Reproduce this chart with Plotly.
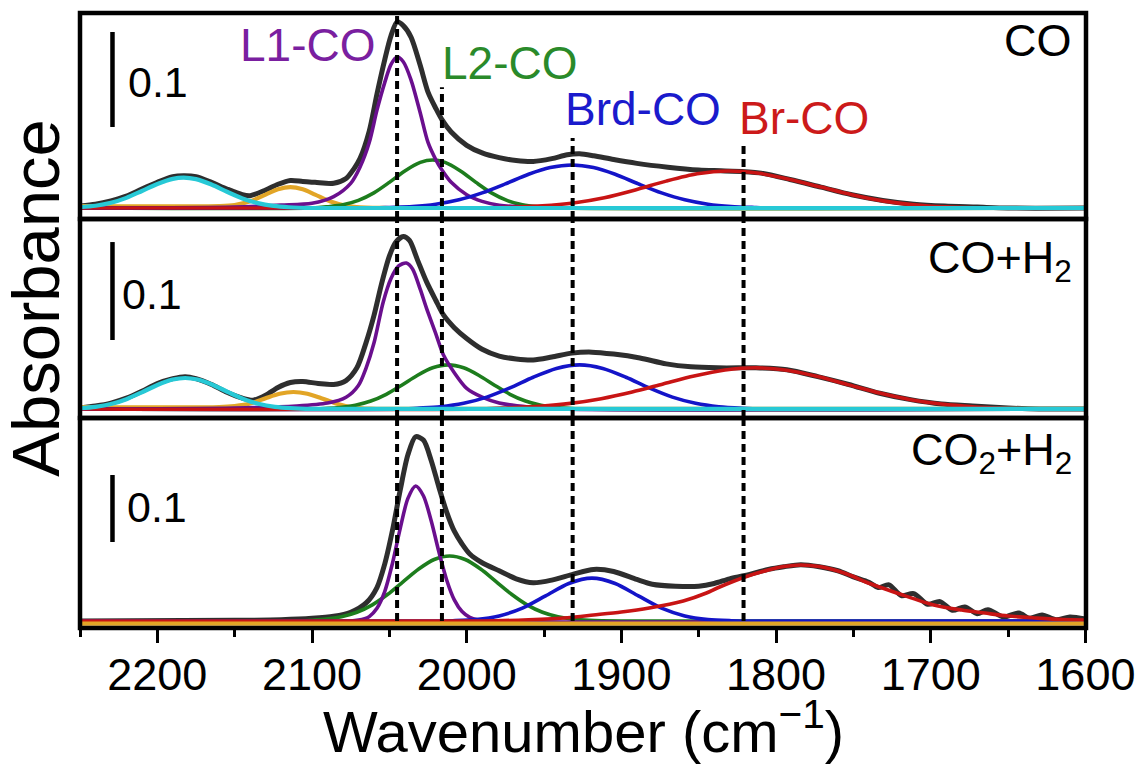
import plotly.graph_objects as go
from plotly.subplots import make_subplots

# ---------------- data: absorbance vs wavenumber (cm-1) ----------------
# Panel 1: CO
WN_CO_TOTAL = [2250, 2240, 2230, 2220, 2210, 2200, 2190, 2183, 2175, 2165, 2155, 2145, 2140, 2130, 2122,
               2114, 2106, 2098, 2086, 2078, 2073, 2069, 2063, 2058, 2053, 2049, 2045, 2041, 2036, 2030,
               2025, 2020, 2016, 2010, 2000, 1990, 1979, 1968, 1957, 1945, 1935, 1927, 1918, 1905, 1890,
               1870, 1850, 1833, 1811, 1791, 1771, 1751, 1731, 1711, 1691, 1670, 1650, 1600]
ABS_CO_TOTAL = [0.002, 0.004, 0.0075, 0.0125, 0.020, 0.027, 0.033, 0.034, 0.033, 0.027, 0.020, 0.014, 0.013, 0.019, 0.025,
                0.029, 0.028, 0.027, 0.026, 0.031, 0.041, 0.052, 0.081, 0.120, 0.156, 0.181, 0.196, 0.192, 0.180, 0.150,
                0.122, 0.105, 0.093, 0.080, 0.066, 0.058, 0.053, 0.050, 0.049, 0.052, 0.056, 0.057, 0.055, 0.051, 0.047,
                0.043, 0.040, 0.039, 0.037, 0.030, 0.022, 0.014, 0.008, 0.004, 0.002, 0.001, 0.0, 0.0]
WN_CO_L1 = [2250, 2150, 2120, 2100, 2086, 2075, 2069, 2063, 2058, 2053, 2049, 2045, 2041, 2036, 2030,
            2025, 2020, 2016, 2010, 2000, 1990, 1979, 1960, 1600]
ABS_CO_L1 = [0.0, 0.001, 0.003, 0.005, 0.012, 0.026, 0.043, 0.069, 0.103, 0.132, 0.151, 0.159, 0.154, 0.135, 0.100,
             0.069, 0.051, 0.040, 0.027, 0.014, 0.007, 0.003, 0.001, 0.0]
WN_CO_L2 = [2250, 2100, 2090, 2080, 2070, 2060, 2050, 2040, 2030, 2022, 2014, 2004, 1994, 1984, 1974, 1964, 1954, 1940, 1600]
ABS_CO_L2 = [0.0, 0.0, 0.0013, 0.0034, 0.008, 0.0159, 0.027, 0.039, 0.048, 0.0505, 0.048, 0.039, 0.027, 0.0159, 0.008,
             0.0034, 0.0013, 0.0, 0.0]
WN_CO_BRD = [2250, 2060, 2050, 2035, 2020, 2005, 1990, 1975, 1960, 1946, 1932, 1918, 1904, 1889, 1874, 1859, 1844,
             1829, 1814, 1800, 1600]
ABS_CO_BRD = [0.0, 0.0, 0.0006, 0.0016, 0.004, 0.0086, 0.0159, 0.0254, 0.0355, 0.0426, 0.0453, 0.0426, 0.0355, 0.0254,
              0.0159, 0.0086, 0.004, 0.0016, 0.0006, 0.0, 0.0]
WN_CO_BR = [2250, 1990, 1971, 1951, 1931, 1911, 1891, 1871, 1851, 1831, 1811, 1791, 1771, 1751, 1731, 1711, 1691,
            1670, 1650, 1600]
ABS_CO_BR = [0.0, 0.0, 0.0008, 0.0022, 0.0053, 0.0108, 0.019, 0.0283, 0.036, 0.039, 0.0365, 0.030, 0.022, 0.014,
             0.0075, 0.0035, 0.0013, 0.0003, 0.0, 0.0]
WN_CO_CYAN = [2250, 2240, 2230, 2220, 2210, 2200, 2190, 2183, 2175, 2165, 2155, 2145, 2135, 2125, 2115, 2100, 1600]
ABS_CO_CYAN = [0.001, 0.0024, 0.0055, 0.0107, 0.0179, 0.0253, 0.0307, 0.032, 0.0304, 0.0247, 0.0171, 0.0101, 0.0051,
               0.0022, 0.0008, 0.0, 0.0]
WN_CO_ORANGE = [2250, 2160, 2150, 2140, 2130, 2122, 2114, 2106, 2098, 2088, 2078, 2065, 2050, 1600]
ABS_CO_ORANGE = [0.002, 0.002, 0.003, 0.007, 0.0141, 0.0197, 0.022, 0.0197, 0.0141, 0.0068, 0.0023, 0.0004, 0.0, 0.0]

# Panel 2: CO + H2
WN_COH2_TOTAL = [2250, 2240, 2230, 2220, 2210, 2200, 2190, 2182, 2175, 2165, 2155, 2145, 2138, 2130, 2122,
                 2114, 2106, 2096, 2086, 2078, 2071, 2065, 2060, 2055, 2050, 2046, 2041, 2037, 2032, 2026,
                 2020, 2015, 2008, 2000, 1990, 1979, 1968, 1957, 1945, 1932, 1919, 1905, 1888, 1871, 1855,
                 1838, 1820, 1813, 1793, 1773, 1753, 1733, 1713, 1693, 1673, 1650, 1630, 1600]
ABS_COH2_TOTAL = [0.001, 0.003, 0.006, 0.011, 0.018, 0.026, 0.031, 0.033, 0.031, 0.025, 0.017, 0.011, 0.009, 0.014, 0.022,
                  0.027, 0.028, 0.026, 0.025, 0.029, 0.042, 0.068, 0.095, 0.128, 0.156, 0.170, 0.176, 0.172, 0.153, 0.130,
                  0.111, 0.096, 0.083, 0.072, 0.061, 0.054, 0.051, 0.050, 0.053, 0.057, 0.058, 0.056, 0.052, 0.046, 0.043,
                  0.042, 0.042, 0.042, 0.040, 0.033, 0.025, 0.016, 0.0095, 0.005, 0.003, 0.001, 0.0, 0.0]
WN_COH2_L1 = [2250, 2150, 2110, 2090, 2078, 2070, 2065, 2060, 2054, 2049, 2044, 2039, 2035, 2030, 2026,
              2020, 2015, 2008, 2000, 1990, 1979, 1960, 1940, 1600]
ABS_COH2_L1 = [0.0, 0.001, 0.003, 0.006, 0.012, 0.024, 0.042, 0.067, 0.109, 0.133, 0.146, 0.149, 0.143, 0.122, 0.103,
               0.077, 0.055, 0.037, 0.021, 0.012, 0.006, 0.002, 0.0, 0.0]
WN_COH2_L2 = [2250, 2100, 2082, 2072, 2062, 2052, 2042, 2032, 2022, 2012, 2002, 1992, 1982, 1972, 1962, 1952, 1942, 1925, 1600]
ABS_COH2_L2 = [0.0, 0.0, 0.0015, 0.0038, 0.0081, 0.015, 0.0243, 0.0342, 0.042, 0.045, 0.042, 0.0342, 0.0243, 0.015,
               0.0081, 0.0038, 0.0015, 0.0, 0.0]
WN_COH2_BRD = [2250, 2040, 2032, 2017, 2002, 1987, 1972, 1957, 1942, 1927, 1912, 1897, 1882, 1867, 1852, 1837, 1822, 1805, 1600]
ABS_COH2_BRD = [0.0, 0.0, 0.0008, 0.0023, 0.0058, 0.0121, 0.0215, 0.0324, 0.0414, 0.045, 0.0414, 0.0324, 0.0215, 0.0121,
                0.0058, 0.0023, 0.0008, 0.0, 0.0]
WN_COH2_BR = [2250, 1990, 1973, 1953, 1933, 1913, 1893, 1873, 1853, 1833, 1813, 1793, 1773, 1753, 1733, 1713, 1693,
              1673, 1653, 1630, 1600]
ABS_COH2_BR = [0.0, 0.0, 0.0012, 0.0028, 0.0057, 0.0105, 0.0173, 0.0255, 0.0336, 0.0397, 0.042, 0.0396, 0.0331, 0.0246,
               0.0162, 0.0095, 0.005, 0.0023, 0.0008, 0.0, 0.0]
WN_COH2_CYAN = [2250, 2240, 2230, 2220, 2210, 2200, 2190, 2182, 2174, 2164, 2154, 2144, 2134, 2124, 2114, 2100, 1600]
ABS_COH2_CYAN = [0.0008, 0.0022, 0.005, 0.010, 0.017, 0.0245, 0.030, 0.0316, 0.030, 0.0245, 0.017, 0.010, 0.005,
                 0.0022, 0.0008, 0.0, 0.0]
WN_COH2_ORANGE = [2250, 2160, 2150, 2140, 2130, 2121, 2112, 2103, 2094, 2084, 2074, 2062, 2050, 1600]
ABS_COH2_ORANGE = [0.002, 0.002, 0.003, 0.0055, 0.011, 0.0155, 0.0173, 0.0155, 0.011, 0.0054, 0.0018, 0.0003, 0.0, 0.0]

# Panel 3: CO2 + H2
WN_CO2H2_TOTAL = [2250, 2150, 2120, 2100, 2086, 2075, 2065, 2058, 2053, 2048, 2043, 2038, 2033, 2028, 2023,
                  2018, 2013, 2008, 2003, 1998, 1990, 1979, 1968, 1957, 1945, 1931, 1918, 1905, 1890, 1880,
                  1865, 1850, 1840, 1830, 1820, 1805, 1795, 1784, 1772, 1760, 1750, 1740, 1734, 1727, 1719,
                  1711, 1702, 1694, 1686, 1678, 1670, 1663, 1653, 1643, 1636, 1628, 1619, 1610, 1600]
ABS_CO2H2_TOTAL = [0.0, 0.001, 0.002, 0.004, 0.007, 0.013, 0.027, 0.050, 0.085, 0.135, 0.195, 0.248, 0.275, 0.270, 0.240,
                   0.200, 0.163, 0.134, 0.115, 0.100, 0.087, 0.075, 0.063, 0.057, 0.061, 0.070, 0.077, 0.074, 0.062, 0.055,
                   0.052, 0.052, 0.056, 0.063, 0.068, 0.077, 0.081, 0.084, 0.081, 0.075, 0.066, 0.058, 0.050, 0.054, 0.038,
                   0.041, 0.025, 0.029, 0.016, 0.021, 0.011, 0.017, 0.006, 0.012, 0.004, 0.009, 0.002, 0.006, 0.003]
WN_CO2H2_L1 = [2250, 2075, 2066, 2063, 2058, 2053, 2048, 2043, 2038, 2033, 2028, 2023, 2018, 2013, 2008,
               2003, 1998, 1993, 1985, 1600]
ABS_CO2H2_L1 = [0.0, 0.0, 0.0033, 0.0066, 0.019, 0.044, 0.086, 0.138, 0.183, 0.2015, 0.187, 0.150, 0.1035, 0.0617, 0.0316,
                0.0141, 0.0054, 0.0018, 0.0, 0.0]
WN_CO2H2_L2 = [2250, 2110, 2101, 2091, 2081, 2071, 2061, 2051, 2041, 2031, 2021, 2011, 2001, 1991, 1981, 1971, 1961,
               1951, 1941, 1931, 1921, 1900, 1600]
ABS_CO2H2_L2 = [0.0, 0.0, 0.0011, 0.0028, 0.0064, 0.0131, 0.0242, 0.0399, 0.0589, 0.0776, 0.0918, 0.097, 0.0918, 0.0776,
                0.0589, 0.0399, 0.0242, 0.0131, 0.0064, 0.0028, 0.0011, 0.0, 0.0]
WN_CO2H2_BRD = [2250, 2020, 2009, 1994, 1979, 1964, 1949, 1934, 1919, 1904, 1889, 1874, 1859, 1844, 1829, 1815, 1600]
ABS_CO2H2_BRD = [0.0, 0.0, 0.0005, 0.0022, 0.0076, 0.0192, 0.0375, 0.056, 0.064, 0.056, 0.0375, 0.0192, 0.0076, 0.0022,
                 0.0005, 0.0, 0.0]
WN_CO2H2_BR = [2250, 1990, 1960, 1935, 1918, 1900, 1882, 1860, 1845, 1838, 1820, 1805, 1795, 1784, 1772, 1760, 1750,
               1742, 1720, 1698, 1680, 1665, 1650, 1632, 1615, 1600]
ABS_CO2H2_BR = [0.0, 0.0, 0.002, 0.005, 0.009, 0.0134, 0.0194, 0.0299, 0.0418, 0.0493, 0.0657, 0.0761, 0.0813, 0.0836,
                0.0813, 0.0746, 0.0664, 0.0582, 0.0403, 0.0239, 0.0164, 0.0119, 0.0075, 0.0045, 0.0022, 0.0015]
WN_CO2H2_ORANGE = [2250, 1600]
ABS_CO2H2_ORANGE = [-0.004, -0.004]

# band assignments (dashed guides) and their labels
BAND_POSITIONS = [2045, 2016, 1931.5, 1821]
BAND_LABELS = ["L1-CO", "L2-CO", "Brd-CO", "Br-CO"]
PANEL_NAMES = ["CO", "CO+H<sub>2</sub>", "CO<sub>2</sub>+H<sub>2</sub>"]
SCALE_BAR = 0.1
X_TICKS = [2200, 2100, 2000, 1900, 1800, 1700, 1600]

# ---------------- styling ----------------
FONT = "Liberation Sans, Arial, Helvetica, sans-serif"
C_BLACK = "#2e2e2e"
C_L1 = "#6a0f8e"
C_L2 = "#1d7d1d"
C_BRD = "#1414c8"
C_BR = "#c81414"
C_CYAN = "#27c9d6"
C_ORANGE = "#e2a526"
LABEL_COLORS = ["#7a1fa0", "#2a8a2a", "#1a1acc", "#cc1a1a"]

Y_RANGES = [[-0.0116, 0.2053], [-0.0092, 0.1939], [-0.0104, 0.303]]
DOMAINS = [[0.665, 1.0], [0.3415, 0.665], [0.0, 0.3415]]
X_RANGE = [2250, 1599.6]

fig = make_subplots(rows=3, cols=1, shared_xaxes=True, vertical_spacing=0)


def add_curve(row, x, y, color, width):
    fig.add_trace(go.Scatter(x=x, y=y, mode="lines",
                             line=dict(color=color, width=width, shape="spline", smoothing=0.8),
                             hoverinfo="skip", showlegend=False), row=row, col=1)


panels = [
    (WN_CO_TOTAL, ABS_CO_TOTAL, [(WN_CO_ORANGE, ABS_CO_ORANGE, C_ORANGE), (WN_CO_L2, ABS_CO_L2, C_L2),
                                  (WN_CO_L1, ABS_CO_L1, C_L1), (WN_CO_BRD, ABS_CO_BRD, C_BRD),
                                  (WN_CO_BR, ABS_CO_BR, C_BR), (WN_CO_CYAN, ABS_CO_CYAN, C_CYAN)]),
    (WN_COH2_TOTAL, ABS_COH2_TOTAL, [(WN_COH2_ORANGE, ABS_COH2_ORANGE, C_ORANGE), (WN_COH2_L2, ABS_COH2_L2, C_L2),
                                      (WN_COH2_L1, ABS_COH2_L1, C_L1), (WN_COH2_BRD, ABS_COH2_BRD, C_BRD),
                                      (WN_COH2_BR, ABS_COH2_BR, C_BR), (WN_COH2_CYAN, ABS_COH2_CYAN, C_CYAN)]),
    (WN_CO2H2_TOTAL, ABS_CO2H2_TOTAL, [(WN_CO2H2_L2, ABS_CO2H2_L2, C_L2), (WN_CO2H2_L1, ABS_CO2H2_L1, C_L1),
                                        (WN_CO2H2_BRD, ABS_CO2H2_BRD, C_BRD), (WN_CO2H2_BR, ABS_CO2H2_BR, C_BR),
                                        (WN_CO2H2_ORANGE, ABS_CO2H2_ORANGE, C_ORANGE)]),
]

for i, (wx, wy, comps) in enumerate(panels, start=1):
    add_curve(i, wx, wy, C_BLACK, 5)
    for cx, cy, col in comps:
        add_curve(i, cx, cy, col, 4.2 if col in (C_CYAN, C_ORANGE) else 3.6)

# axes (frame is drawn as shapes so shared borders stay one line thick)
for i in range(1, 4):
    fig.update_xaxes(row=i, col=1, range=X_RANGE, showgrid=False, zeroline=False, automargin=False,
                     showline=False, ticks="", showticklabels=False)
    fig.update_yaxes(row=i, col=1, range=Y_RANGES[i - 1], domain=DOMAINS[i - 1], showgrid=False,
                     zeroline=False, showline=False, ticks="", showticklabels=False, automargin=False)

fig.update_xaxes(row=3, col=1, ticks="outside", ticklen=14, tickwidth=3, tickcolor="black",
                 tickvals=X_TICKS, showticklabels=True, ticklabelstandoff=-7,
                 tickfont=dict(family=FONT, size=45, color="black"),
                 minor=dict(dtick=50, ticks="outside", ticklen=8, tickwidth=3, tickcolor="black"))

shapes = []
for d0, d1 in DOMAINS:
    shapes.append(dict(type="rect", xref="paper", yref="paper", x0=0, x1=1, y0=d0, y1=d1,
                       line=dict(color="black", width=4.5), fillcolor="rgba(0,0,0,0)", layer="above"))

# dashed band guides through all three panels
panel1_tops = [Y_RANGES[0][1], 0.127, 0.0737, 0.066]
for wn, top in zip(BAND_POSITIONS, panel1_tops):
    dash = dict(color="black", width=4, dash="8px,5px")
    shapes.append(dict(type="line", xref="x", yref="y", x0=wn, x1=wn, y0=Y_RANGES[0][0], y1=top, line=dash))
    shapes.append(dict(type="line", xref="x2", yref="y2", x0=wn, x1=wn, y0=Y_RANGES[1][0], y1=Y_RANGES[1][1], line=dash))
    shapes.append(dict(type="line", xref="x3", yref="y3", x0=wn, x1=wn, y0=0, y1=Y_RANGES[2][1], line=dash))

# 0.1 absorbance scale bars
bar_starts = [0.0853, 0.0704, 0.1179]
for i, y0 in enumerate(bar_starts, start=1):
    suffix = "" if i == 1 else str(i)
    shapes.append(dict(type="line", xref="x" + suffix, yref="y" + suffix, x0=2229, x1=2229,
                       y0=y0, y1=y0 + SCALE_BAR, line=dict(color="black", width=4.5)))

annotations = []
label_pos = [(2103, 0.172), (1972, 0.153), (1886, 0.104), (1782, 0.095)]
for text, (x, y), col in zip(BAND_LABELS, label_pos, LABEL_COLORS):
    annotations.append(dict(text=text, x=x, y=y, xref="x", yref="y", showarrow=False,
                            xanchor="center", yanchor="middle",
                            font=dict(family=FONT, size=46, color=col)))

name_y = [0.9545, 0.598, 0.2846]
for text, y in zip(PANEL_NAMES, name_y):
    annotations.append(dict(text=text, x=0.988, y=y, xref="paper", yref="paper", showarrow=False,
                            xanchor="right", yanchor="middle",
                            font=dict(family=FONT, size=45, color="black")))

bar_text = [(2220, 0.1326, "x", "y"), (2224, 0.1173, "x2", "y2"), (2221, 0.170, "x3", "y3")]
for x, y, xr, yr in bar_text:
    annotations.append(dict(text=f"{SCALE_BAR:g}", x=x, y=y, xref=xr, yref=yr, showarrow=False,
                            xanchor="left", yanchor="middle",
                            font=dict(family=FONT, size=43, color="black")))

annotations.append(dict(text="Wavenumber (cm<sup>−1</sup>)", x=0.5, y=-0.161, xref="paper", yref="paper",
                        showarrow=False, xanchor="center", yanchor="middle",
                        font=dict(family=FONT, size=58, color="black")))
annotations.append(dict(text="Absorbance", x=-0.044, y=0.5366, xref="paper", yref="paper", textangle=-90,
                        showarrow=False, xanchor="center", yanchor="middle",
                        font=dict(family=FONT, size=67, color="black")))

fig.update_layout(width=1137, height=765, margin=dict(l=80, r=51, t=13, b=137),
                  paper_bgcolor="white", plot_bgcolor="white", showlegend=False,
                  shapes=shapes, annotations=annotations)

fig.write_html("out.html")
